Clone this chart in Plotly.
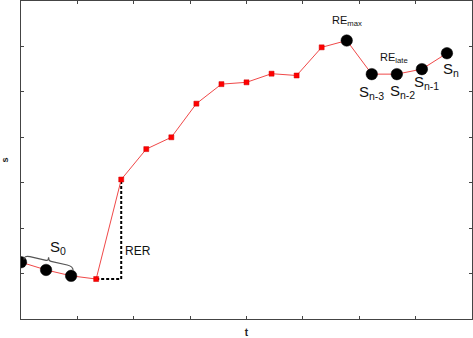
import plotly.graph_objects as go

# ---- data ----
t = list(range(18))
s = [1.25, 1.08, 0.95, 0.88, 3.07, 3.74, 4.00, 4.74, 5.17, 5.21,
     5.40, 5.36, 5.98, 6.13, 5.39, 5.39, 5.50, 5.85]
highlight = [0, 1, 2, 13, 14, 15, 16, 17]   # points drawn as large black dots
x_ticks = [2.25 * k for k in range(1, 8)]
y_ticks = [1, 2, 3, 4, 5, 6]

FONT = "Liberation Sans, Arial, sans-serif"

sym = ["circle" if i in highlight else "square" for i in t]
col = ["#000000" if i in highlight else "#ff0000" for i in t]
siz = [11.5 if i in highlight else 5 for i in t]
lcol = ["#000000" if i in highlight else "#cc0000" for i in t]

fig = go.Figure()
fig.add_trace(go.Scatter(
    x=t, y=s, mode="lines+markers",
    line=dict(color="#f04848", width=1),
    marker=dict(symbol=sym, color=col, size=siz, opacity=1,
                line=dict(color=lcol, width=0.5)),
    opacity=1, hoverinfo="skip", showlegend=False,
))

# RER dashed right angle
fig.add_shape(type="line", x0=t[3], y0=s[3], x1=t[4], y1=s[3],
              line=dict(color="black", width=2, dash="3px,2px"), layer="below")
fig.add_shape(type="line", x0=t[4], y0=s[3], x1=t[4], y1=s[4],
              line=dict(color="black", width=2, dash="3px,2px"), layer="below")

# curly brace over the first three points
def brace(xa, ya, xb, yb, h, tip):
    mx, my = (xa + xb) / 2, (ya + yb) / 2
    dx, dy = xb - xa, yb - ya
    p = lambda fx, off: (xa + fx * dx, ya + fx * dy + off)
    A = p(0.12, h); B = p(0.45, h); T = p(0.5, h + tip); C = p(0.55, h); D = p(0.88, h)
    return (f"M {xa},{ya} Q {xa},{ya+h} {A[0]},{A[1]} L {B[0]},{B[1]} "
            f"Q {mx},{my+h} {T[0]},{T[1]} Q {mx},{my+h} {C[0]},{C[1]} "
            f"L {D[0]},{D[1]} Q {xb},{yb+h} {xb},{yb}")

fig.add_shape(type="path",
              path=brace(t[0] + 0.12, s[0] + 0.06, t[2] + 0.08, s[2] + 0.12, 0.09, 0.08),
              line=dict(color="#555555", width=1.2))

def label(i, text, dx, dy, size=15, y=None):
    fig.add_annotation(x=t[i], y=s[i] if y is None else y, text=text, showarrow=False,
                       xshift=dx, yshift=dy, font=dict(family=FONT, size=size, color="#111111"))

label(1, "S<sub>0</sub>", 12, 22)
label(4, "RER", 17, -22, size=12, y=(s[3] + s[4]) / 2)
label(13, "RE<sub>max</sub>", 0, 20, size=11)
label(15, "RE<sub>late</sub>", -3, 16, size=11)
label(14, "S<sub>n-3</sub>", 0, -18)
label(15, "S<sub>n-2</sub>", 6, -17)
label(16, "S<sub>n-1</sub>", 5, -13)
label(17, "S<sub>n</sub>", 4, -16)

axis_common = dict(showgrid=False, zeroline=False, showline=True, linecolor="#444444",
                   linewidth=1, mirror="allticks", ticks="inside", ticklen=3,
                   tickcolor="#444444", showticklabels=False, automargin=False)

fig.update_xaxes(range=[0, 18], tickvals=x_ticks,
                 title=dict(text="<b>t</b>", font=dict(family=FONT, size=10, color="#222")),
                 **axis_common)
fig.update_yaxes(range=[0, 7], tickvals=y_ticks,
                 title=dict(text="<b>s</b>", font=dict(family=FONT, size=9, color="#222")),
                 **axis_common)

fig.update_layout(width=473, height=338, margin=dict(l=21, r=1, t=1, b=19, autoexpand=False),
                  plot_bgcolor="white", paper_bgcolor="white")

fig.write_html("out.html", config={"displayModeBar": False},
               post_script="document.body.style.margin='0';document.body.style.overflow='hidden';")
